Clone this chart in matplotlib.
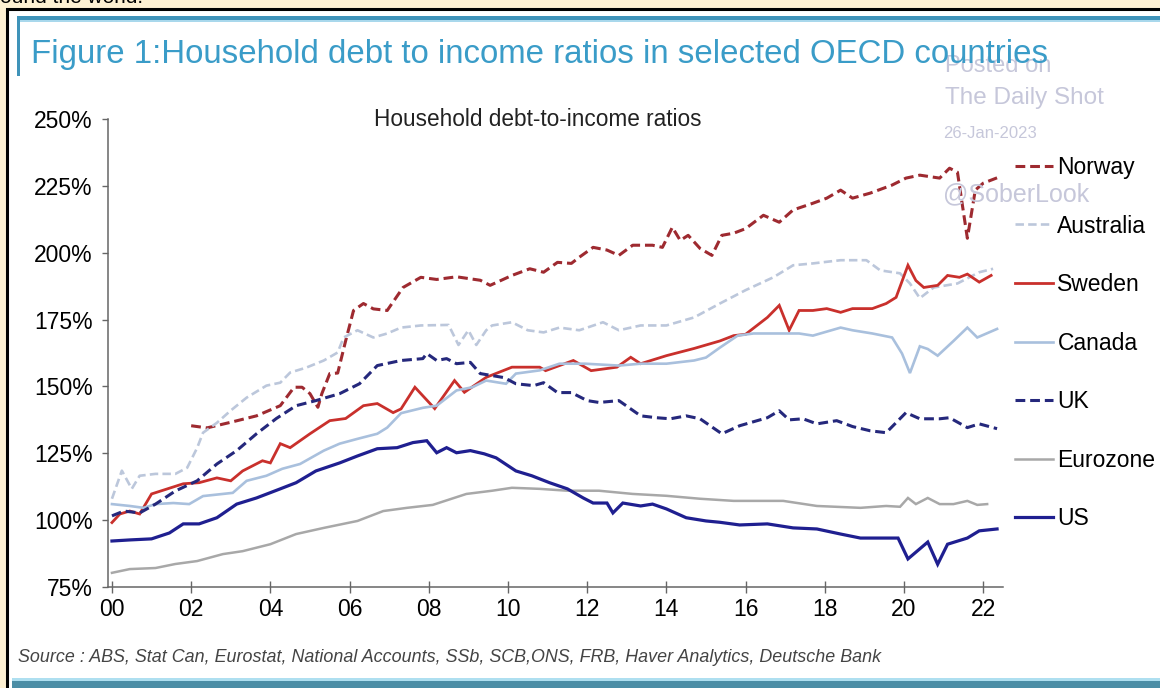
import matplotlib.pyplot as plt
from matplotlib.patches import Rectangle
from matplotlib.lines import Line2D
from matplotlib.ticker import FuncFormatter

plt.rcParams.update({"font.family": ["Liberation Sans", "DejaVu Sans"]})

# ---- data (year, household debt / income in %) ----
norway_x = [2002.0, 2002.4, 2003.0, 2003.65, 2004.25, 2004.6, 2004.8, 2005.0, 2005.2, 2005.3,
            2005.5, 2005.7, 2005.9, 2006.1, 2006.35, 2006.6, 2006.95, 2007.35, 2007.8, 2008.2,
            2008.7, 2009.3, 2009.55, 2010.1, 2010.55, 2010.9, 2011.25, 2011.6, 2011.8, 2012.15,
            2012.5, 2012.8, 2013.15, 2013.65, 2013.9, 2014.15, 2014.35, 2014.55, 2014.85, 2015.15,
            2015.4, 2015.7, 2016.0, 2016.45, 2016.85, 2017.2, 2017.7, 2018.05, 2018.4, 2018.7,
            2019.15, 2019.7, 2020.05, 2020.4, 2020.9, 2021.15, 2021.35, 2021.6, 2021.8, 2022.0,
            2022.35]
norway_y = [135.3, 134.5, 136.6, 139.0, 142.8, 149.7, 149.7, 147.3, 142.2, 147.3,
            154.8, 155.0, 167.0, 178.4, 181.0, 179.0, 178.4, 187.0, 190.8, 190.0,
            191.0, 189.7, 187.8, 191.5, 194.0, 192.7, 196.4, 196.0, 198.3, 202.0,
            201.0, 199.0, 202.8, 202.8, 202.0, 209.5, 204.6, 206.5, 201.6, 199.0,
            206.5, 207.3, 209.0, 214.0, 211.4, 216.0, 218.5, 220.4, 223.4, 220.4,
            222.3, 225.3, 227.9, 229.0, 227.9, 231.6, 230.1, 205.4, 223.4, 226.0,
            228.0]

australia_x = [2000.0, 2000.25, 2000.5, 2000.7, 2001.1, 2001.6, 2001.9, 2002.15, 2002.3, 2002.65,
               2003.0, 2003.4, 2003.9, 2004.25, 2004.5, 2004.9, 2005.35, 2005.7, 2005.85, 2006.2,
               2006.6, 2006.95, 2007.3, 2007.8, 2008.5, 2008.75, 2009.0, 2009.2, 2009.45, 2009.6,
               2010.1, 2010.5, 2010.9, 2011.3, 2011.8, 2012.4, 2012.8, 2013.35, 2014.0, 2014.7,
               2015.35, 2016.0, 2016.7, 2017.2, 2017.7, 2018.4, 2019.05, 2019.4, 2019.9, 2020.15,
               2020.4, 2020.75, 2021.35, 2021.9, 2022.25]
australia_y = [108.0, 118.5, 111.7, 116.6, 117.3, 117.3, 119.6, 127.0, 132.7, 136.4,
               141.0, 145.8, 150.3, 151.4, 155.2, 157.0, 159.7, 162.7, 168.3, 171.0,
               168.3, 169.8, 172.0, 172.8, 173.0, 165.5, 171.0, 165.5, 171.0, 172.8,
               174.0, 171.0, 170.2, 172.0, 171.0, 174.0, 171.0, 172.8, 172.8, 175.8,
               181.0, 186.0, 190.8, 195.3, 196.0, 197.2, 197.2, 193.4, 192.3, 188.5,
               183.0, 187.0, 188.5, 192.7, 194.0]

sweden_x = [2000.0, 2000.2, 2000.45, 2000.7, 2001.0, 2001.4, 2001.8, 2002.2, 2002.65, 2003.0,
            2003.3, 2003.8, 2004.0, 2004.25, 2004.5, 2005.0, 2005.5, 2005.9, 2006.35, 2006.7,
            2007.1, 2007.3, 2007.65, 2008.15, 2008.65, 2008.9, 2009.45, 2010.1, 2010.8, 2010.95,
            2011.65, 2012.1, 2012.75, 2013.1, 2013.35, 2014.0, 2014.7, 2015.35, 2015.7, 2016.0,
            2016.55, 2016.85, 2017.1, 2017.35, 2017.7, 2018.05, 2018.4, 2018.7, 2019.2, 2019.55,
            2019.8, 2020.1, 2020.3, 2020.5, 2020.85, 2021.1, 2021.4, 2021.6, 2021.9, 2022.2]
sweden_y = [99.1, 102.3, 103.4, 102.3, 109.8, 111.7, 113.6, 114.0, 115.8, 114.7,
            118.4, 122.2, 121.4, 128.6, 127.1, 132.3, 137.2, 138.0, 142.8, 143.6,
            140.2, 141.6, 149.7, 141.7, 152.2, 147.8, 153.4, 157.2, 157.2, 155.9,
            159.7, 155.9, 157.2, 160.9, 158.5, 161.5, 164.2, 167.0, 169.0, 169.5,
            175.8, 180.3, 171.0, 178.4, 178.4, 179.1, 177.7, 179.1, 179.1, 181.0,
            183.3, 195.3, 189.6, 187.0, 187.8, 191.5, 190.8, 192.0, 189.0, 191.5]

canada_x = [2000.0, 2000.45, 2000.8, 2001.1, 2001.55, 2001.95, 2002.3, 2002.8, 2003.05, 2003.4,
            2003.9, 2004.3, 2004.75, 2005.35, 2005.75, 2006.2, 2006.7, 2006.95, 2007.3, 2007.85,
            2008.2, 2008.7, 2009.1, 2009.45, 2009.95, 2010.2, 2010.8, 2011.3, 2011.95, 2012.8,
            2013.35, 2014.0, 2014.7, 2015.0, 2015.35, 2015.8, 2016.2, 2016.85, 2017.35, 2017.7,
            2018.4, 2018.7, 2019.2, 2019.7, 2019.95, 2020.15, 2020.4, 2020.6, 2020.85, 2021.25,
            2021.6, 2021.85, 2022.35]
canada_y = [106.0, 105.3, 104.6, 106.0, 106.4, 106.0, 109.0, 109.8, 110.2, 114.7,
            116.6, 119.2, 121.0, 126.0, 128.6, 130.4, 132.3, 134.6, 140.0, 142.0,
            142.8, 148.5, 149.7, 152.2, 151.0, 154.8, 156.0, 158.5, 158.5, 157.8,
            158.5, 158.5, 159.7, 160.8, 164.5, 169.0, 169.8, 169.8, 169.8, 169.0,
            172.0, 171.0, 169.8, 168.3, 162.3, 155.0, 165.0, 164.0, 161.5, 167.0,
            172.0, 168.3, 171.5]

uk_x = [2000.0, 2000.3, 2000.7, 2001.1, 2001.6, 2002.15, 2002.65, 2003.15, 2003.65, 2004.15,
        2004.65, 2005.15, 2005.75, 2006.25, 2006.7, 2007.3, 2007.85, 2007.95, 2008.2, 2008.45,
        2008.7, 2009.05, 2009.3, 2009.9, 2010.2, 2010.65, 2010.9, 2011.25, 2011.6, 2012.0,
        2012.3, 2012.8, 2013.35, 2013.75, 2014.1, 2014.5, 2014.85, 2015.4, 2015.85, 2016.55,
        2016.85, 2017.1, 2017.45, 2017.8, 2018.3, 2018.7, 2019.15, 2019.55, 2020.05, 2020.4,
        2020.9, 2021.15, 2021.6, 2021.9, 2022.35]
uk_y = [101.6, 103.4, 102.7, 106.0, 110.9, 114.7, 121.0, 126.0, 132.3, 138.0,
        142.8, 144.7, 147.3, 151.0, 157.8, 159.7, 160.4, 162.3, 159.7, 160.4,
        158.5, 159.0, 154.8, 153.3, 151.0, 150.3, 151.4, 147.7, 147.7, 144.7,
        144.0, 144.7, 139.0, 138.3, 137.9, 139.0, 137.9, 132.3, 135.3, 138.3,
        140.9, 137.5, 137.9, 136.0, 137.2, 135.0, 133.4, 132.7, 140.2, 137.9,
        137.9, 138.3, 134.6, 136.0, 134.2]

eurozone_x = [2000.0, 2000.45, 2001.1, 2001.6, 2002.15, 2002.8, 2003.3, 2004.0, 2004.65, 2005.35,
              2006.2, 2006.85, 2007.45, 2008.1, 2008.95, 2009.6, 2010.1, 2010.8, 2011.5, 2012.3,
              2013.15, 2014.0, 2014.85, 2015.7, 2016.95, 2017.8, 2018.9, 2019.55, 2019.9, 2020.1,
              2020.3, 2020.6, 2020.9, 2021.25, 2021.6, 2021.85, 2022.1]
eurozone_y = [80.3, 81.7, 82.1, 83.6, 84.7, 87.3, 88.4, 91.0, 94.8, 97.1,
              99.7, 103.4, 104.6, 105.7, 109.8, 111.0, 112.1, 111.7, 111.0, 111.0,
              109.8, 109.1, 108.0, 107.2, 107.2, 105.3, 104.6, 105.3, 105.0, 108.3,
              106.0, 108.3, 106.0, 106.0, 107.2, 105.7, 106.0]

us_x = [2000.0, 2000.45, 2001.0, 2001.45, 2001.8, 2002.2, 2002.65, 2003.15, 2003.65, 2004.25,
        2004.65, 2005.15, 2005.75, 2006.2, 2006.7, 2007.2, 2007.6, 2007.95, 2008.2, 2008.45,
        2008.7, 2009.05, 2009.4, 2009.7, 2010.2, 2010.6, 2011.05, 2011.5, 2011.9, 2012.15,
        2012.5, 2012.65, 2012.9, 2013.35, 2013.65, 2014.0, 2014.5, 2015.0, 2015.35, 2015.85,
        2016.55, 2017.2, 2017.8, 2018.4, 2018.9, 2019.4, 2019.85, 2020.1, 2020.6, 2020.85,
        2021.1, 2021.6, 2021.9, 2022.35]
us_y = [92.2, 92.6, 93.0, 95.2, 98.6, 98.6, 100.9, 106.0, 108.3, 111.7,
        114.0, 118.4, 121.4, 124.0, 126.7, 127.1, 129.0, 129.7, 125.2, 127.1,
        125.2, 126.0, 124.8, 123.3, 118.4, 116.6, 114.0, 111.7, 108.3, 106.4,
        106.4, 102.7, 106.4, 105.3, 106.0, 104.2, 100.9, 99.7, 99.2, 98.2,
        98.6, 97.1, 96.7, 94.8, 93.3, 93.3, 93.3, 85.5, 91.8, 83.5,
        91.0, 93.3, 96.0, 96.7]

countries = ["Norway", "Australia", "Sweden", "Canada", "UK", "Eurozone", "US"]
x_ticks = list(range(2000, 2023, 2))
x_ticklabels = [f"{t % 100:02d}" for t in x_ticks]
y_ticks = list(range(75, 251, 25))

# ---- styling ----
DASH = (0, (3.2, 1.6))
styles = {
    "Norway":    dict(color="#9E2A30", lw=2.2, ls=DASH),
    "Australia": dict(color="#BCC7DB", lw=1.9, ls=DASH),
    "Sweden":    dict(color="#C9302C", lw=2.0, ls="-"),
    "Canada":    dict(color="#A9C0DD", lw=1.9, ls="-"),
    "UK":        dict(color="#25287C", lw=2.2, ls=DASH),
    "Eurozone":  dict(color="#A8A8A8", lw=1.8, ls="-"),
    "US":        dict(color="#1F1F90", lw=2.3, ls="-"),
}
series = {
    "Norway": (norway_x, norway_y),
    "Australia": (australia_x, australia_y),
    "Sweden": (sweden_x, sweden_y),
    "Canada": (canada_x, canada_y),
    "UK": (uk_x, uk_y),
    "Eurozone": (eurozone_x, eurozone_y),
    "US": (us_x, us_y),
}

W, H = 1160, 688
fig = plt.figure(figsize=(W / 100, H / 100), dpi=100, facecolor="#FDF0D2")


def fx(x):
    return x / W


def fy(y):
    return 1 - y / H


def rect(x0, y0, x1, y1, **kw):
    fig.add_artist(Rectangle((fx(x0), fy(y1)), fx(x1) - fx(x0), fy(y0) - fy(y1),
                             transform=fig.transFigure, zorder=-5, **kw))


# frame of the screenshot
rect(7, 9, 1175, 700, facecolor="white", edgecolor="black", lw=2.2)
rect(17, 16, 1165, 20, facecolor="#3F93B9", edgecolor="none")
rect(17, 20, 1165, 22, facecolor="#A9D8EC", edgecolor="none")
rect(17, 16, 20, 76, facecolor="#3F93B9", edgecolor="none")
rect(12, 678, 1165, 681, facecolor="#AEDFF0", edgecolor="none")
rect(12, 681, 1165, 690, facecolor="#4B8EA6", edgecolor="none")

fig.text(0, fy(3), "ound the world.", fontsize=15, color="black", va="baseline")

# watermark
wm = "#C6C7DA"
fig.text(fx(945), fy(66), "Posted on", fontsize=17, color=wm, va="center", zorder=1)
fig.text(fx(945), fy(98), "The Daily Shot", fontsize=17.5, color=wm, va="center")
fig.text(fx(943), fy(133), "26-Jan-2023", fontsize=12, color=wm, va="center")
fig.text(fx(943), fy(194), "@SoberLook", fontsize=18, color=wm, va="center")

fig.text(fx(31), fy(55), "Figure 1:Household debt to income ratios in selected OECD countries",
         fontsize=23.8, color="#3A9CC8", va="center", zorder=5)

# ---- axes ----
ax = fig.add_axes([fx(108), fy(587), fx(1003) - fx(108), fy(119) - fy(587)])
ax.patch.set_alpha(0)
ax.set_xlim(1999.9, 2022.5)
ax.set_ylim(75, 250)

for name in countries:
    xs, ys = series[name]
    ax.plot(xs, ys, label=name, solid_joinstyle="miter", **styles[name])

for s in ["top", "right"]:
    ax.spines[s].set_visible(False)
for s in ["left", "bottom"]:
    ax.spines[s].set_color("#666666")
    ax.spines[s].set_linewidth(1.1)

ax.set_xticks(x_ticks)
ax.set_xticklabels(x_ticklabels)
ax.set_yticks(y_ticks)
ax.yaxis.set_major_formatter(FuncFormatter(lambda v, p: f"{v:.0f}%"))
ax.tick_params(axis="x", direction="inout", length=8, width=1, color="#666666",
               labelsize=16.5, pad=4)
ax.tick_params(axis="y", direction="out", length=4, width=1, color="#666666",
               labelsize=16.5, pad=7)

ax.text(0.48, 1.0, "Household debt-to-income ratios", transform=ax.transAxes,
        ha="center", va="center", fontsize=16.3, color="#222222")

handles = [Line2D([], [], **styles[n]) for n in countries]
fig.legend(handles, countries, loc="upper left", bbox_to_anchor=(fx(1015), fy(156)),
           frameon=False, fontsize=16.5, handlelength=1.65, handletextpad=0.2,
           labelspacing=1.55, borderpad=0, borderaxespad=0)

fig.text(fx(18), fy(657),
         "Source : ABS, Stat Can, Eurostat, National Accounts, SSb, SCB,ONS, FRB, "
         "Haver Analytics, Deutsche Bank",
         fontsize=12.9, style="italic", color="#444444", va="center")

fig.savefig("out.png", dpi=100, facecolor=fig.get_facecolor())
